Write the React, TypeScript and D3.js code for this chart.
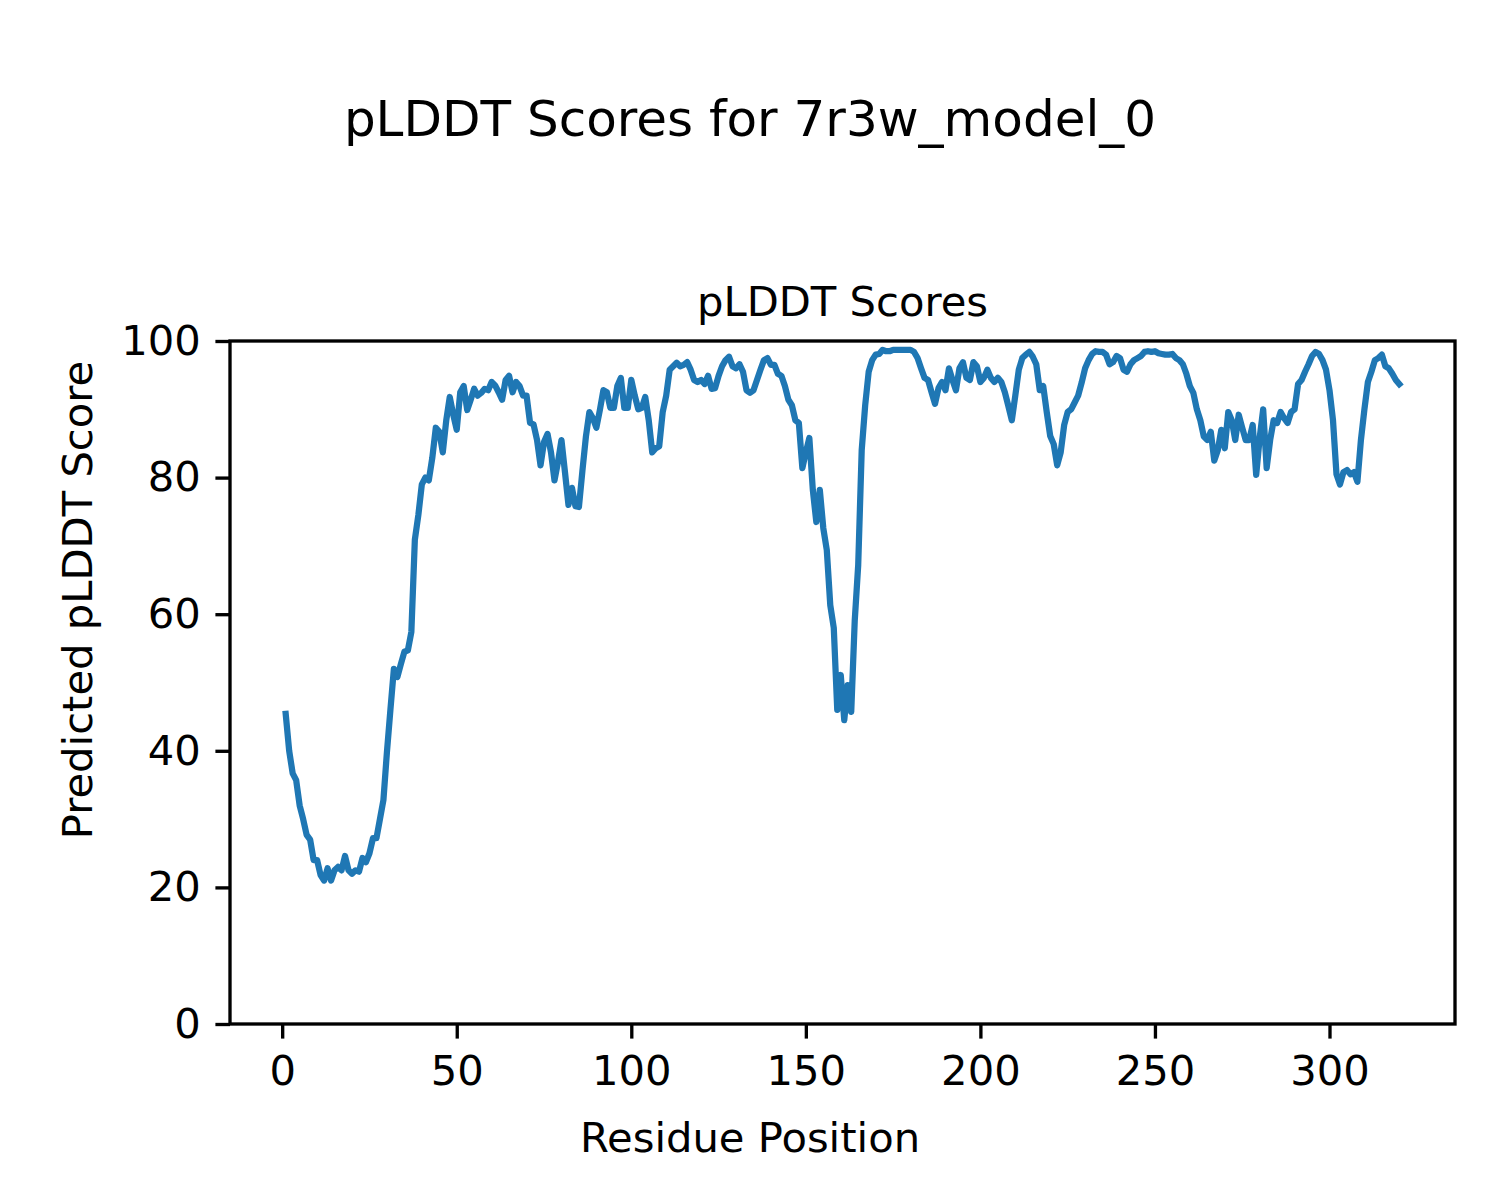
import { useEffect, useRef } from 'react';
import * as d3 from 'd3';

// pLDDT per residue (residues 1..320)
const plddt: number[] = [
  45.4, 40, 36.7, 35.7, 32, 30, 27.7, 27, 24, 24,
  21.8, 21, 22.8, 21, 22.5, 23, 22.5, 24.6, 22.5, 22,
  22.5, 22.3, 24.3, 23.7, 25, 27.2, 27.2, 30, 32.8, 39.8,
  46, 52, 50.8, 52.7, 54.5, 54.7, 57.4, 70.9, 74.5, 79,
  80, 79.6, 82.9, 87.3, 86.7, 83.7, 88.4, 91.8, 89.2, 87,
  92.5, 93.4, 89.9, 91.4, 93, 92, 92.4, 93, 92.8, 94,
  93.5, 92.5, 91.4, 94.3, 94.9, 92.5, 94, 93.4, 92, 92,
  88, 87.8, 85.5, 81.8, 85.2, 86.4, 83.7, 79.6, 82.3, 85.5,
  80.8, 76, 78.5, 75.8, 75.7, 81, 86, 89.6, 88.7, 87.3,
  89.9, 92.8, 92.5, 90.2, 90.2, 93.4, 94.6, 90.2, 90.2, 94.3,
  92, 90, 90.2, 91.8, 88.4, 83.7, 84.3, 84.6, 89.6, 92,
  95.8, 96.3, 96.8, 96.3, 96.5, 96.9, 95.8, 94.3, 94, 94.3,
  93.7, 94.9, 93, 93.1, 94.9, 96.3, 97.2, 97.7, 96.3, 96,
  96.6, 95.5, 92.8, 92.4, 92.8, 94.3, 95.8, 97.2, 97.5, 96.5,
  96.5, 95.2, 94.9, 93.4, 91.4, 90.6, 88.4, 88, 81.4, 83.7,
  85.8, 78.2, 73.5, 78.2, 72.6, 69.4, 61.3, 58, 46, 51.1,
  44.5, 49.6, 45.7, 59, 67.2, 84, 90.6, 95.5, 97.2, 98,
  98.1, 98.7, 98.5, 98.5, 98.7, 98.7, 98.7, 98.7, 98.7, 98.7,
  98.4, 97.5, 96, 94.6, 94.3, 92.5, 90.8, 93.1, 94, 92.8,
  96, 94.3, 92.8, 96, 96.9, 94.6, 94.3, 96.9, 96.3, 94,
  94.6, 95.8, 94.6, 94, 94.6, 94, 92.5, 90.5, 88.4, 92,
  95.8, 97.5, 98, 98.4, 97.7, 96.6, 92.8, 93.4, 89.6, 86.1,
  84.9, 81.8, 83.7, 87.7, 89.6, 90, 91, 92, 93.9, 96,
  97.2, 98.1, 98.5, 98.4, 98.4, 98, 96.6, 96.9, 97.8, 97.5,
  95.8, 95.5, 96.6, 97.2, 97.5, 97.8, 98.4, 98.5, 98.4, 98.5,
  98.2, 98.1, 98, 98, 98.1, 97.5, 97.2, 96.6, 95.2, 93.4,
  92.4, 90, 88.4, 86, 85.5, 86.7, 82.5, 84, 87, 84.3,
  89.6, 88.4, 85.5, 89.2, 87.3, 85.5, 85.5, 87.7, 80.4, 85.8,
  90, 81.4, 85.5, 88.4, 88, 89.6, 88.7, 88, 89.6, 90,
  93.7, 94.3, 95.5, 96.6, 97.8, 98.4, 98.1, 97.2, 95.8, 92.8,
  88.4, 80.5, 79, 80.8, 81.1, 80.5, 80.8, 79.4, 85.5, 90,
  94, 95.5, 97.2, 97.5, 98, 96.3, 96, 95.2, 94.3, 93.7,
];
const residues = plddt.map((_, i) => i + 1);
const xTicks = [0, 50, 100, 150, 200, 250, 300];
const yTicks = [0, 20, 40, 60, 80, 100];

const W = 1500;
const H = 1200;
const FONT = 'DejaVu Sans, sans-serif';

export default function App() {
  const svgRef = useRef<SVGSVGElement>(null);

  useEffect(() => {
    document.body.style.margin = '0';
    const svg = d3.select(svgRef.current);
    svg.selectAll('*').remove();

    const left = 230, right = 1455, top = 341, bottom = 1024;
    const pad = (residues[residues.length - 1] - residues[0]) * 0.05;
    const x = d3.scaleLinear()
      .domain([residues[0] - pad, residues[residues.length - 1] + pad])
      .range([left, right]);
    const y = d3.scaleLinear().domain([0, 100]).range([bottom, top]);

    svg.append('rect').attr('width', W).attr('height', H).attr('fill', '#fff');

    // line
    const line = d3.line<number>()
      .x((_, i) => x(residues[i]))
      .y(d => y(d));
    svg.append('path')
      .datum(plddt)
      .attr('fill', 'none')
      .attr('stroke', '#1f77b4')
      .attr('stroke-width', 6.25)
      .attr('stroke-linejoin', 'round')
      .attr('stroke-linecap', 'square')
      .attr('d', line);

    // axes
    const xAxis = d3.axisBottom(x).tickValues(xTicks).tickSize(14.6).tickPadding(14.6);
    const yAxis = d3.axisLeft(y).tickValues(yTicks).tickSize(14.6).tickPadding(14.6);

    const gx = svg.append('g').attr('transform', `translate(0,${bottom})`).call(xAxis);
    const gy = svg.append('g').attr('transform', `translate(${left},0)`).call(yAxis);
    [gx, gy].forEach(g => {
      g.select('.domain').remove();
      g.selectAll('line').attr('stroke', '#000').attr('stroke-width', 3.33);
      g.selectAll('text')
        .attr('fill', '#000')
        .style('font-family', FONT)
        .style('font-size', '41.7px');
    });
    gx.selectAll('text').attr('dy', '0.76em');

    // spines
    svg.append('rect')
      .attr('x', left).attr('y', top)
      .attr('width', right - left).attr('height', bottom - top)
      .attr('fill', 'none')
      .attr('stroke', '#000')
      .attr('stroke-width', 3.33);

    // titles and labels
    svg.append('text')
      .attr('x', 750).attr('y', 136)
      .attr('text-anchor', 'middle')
      .style('font-family', FONT).style('font-size', '50px')
      .text('pLDDT Scores for 7r3w_model_0');

    svg.append('text')
      .attr('x', (left + right) / 2).attr('y', 316)
      .attr('text-anchor', 'middle')
      .style('font-family', FONT).style('font-size', '41.7px')
      .text('pLDDT Scores');

    svg.append('text')
      .attr('x', 750).attr('y', 1152)
      .attr('text-anchor', 'middle')
      .style('font-family', FONT).style('font-size', '41.7px')
      .text('Residue Position');

    svg.append('text')
      .attr('transform', 'translate(92,600) rotate(-90)')
      .attr('text-anchor', 'middle')
      .style('font-family', FONT).style('font-size', '41.7px')
      .text('Predicted pLDDT Score');
  }, []);

  return <svg ref={svgRef} width={W} height={H} style={{ display: 'block' }} />;
}
